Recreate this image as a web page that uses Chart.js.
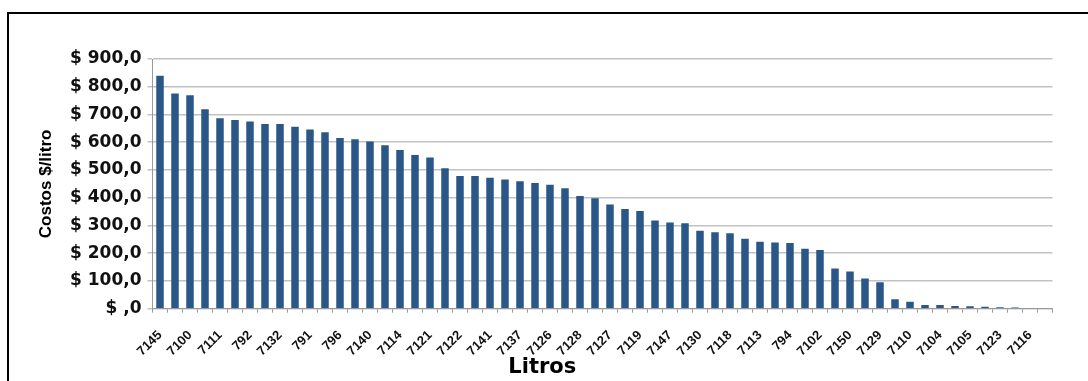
<!DOCTYPE html>
<html>
<head>
<meta charset="utf-8">
<script src="https://cdn.jsdelivr.net/npm/chart.js@4/dist/chart.umd.min.js"></script>
<style>
  html, body { margin: 0; padding: 0; background: #fff; overflow: hidden; }
  #frame { position: absolute; left: 7px; top: 12px; width: 1200px; height: 500px;
           border-left: 2px solid #000; border-top: 2px solid #000; }
  #wrap { position: absolute; left: 0; top: 0; width: 1088px; height: 381px; }
</style>
</head>
<body>
<div id="frame"></div>
<div id="wrap"><canvas id="c"></canvas></div>
<script>
// Vehicle codes, sorted by cost; every second code is labelled on the axis
const categories = [
  '7145', '', '7100', '', '7111', '', '792', '', '7132', '',
  '791', '', '796', '', '7140', '', '7114', '', '7121', '',
  '7122', '', '7141', '', '7137', '', '7126', '', '7128', '',
  '7127', '', '7119', '', '7147', '', '7130', '', '7118', '',
  '7113', '', '794', '', '7102', '', '7150', '', '7129', '',
  '7110', '', '7104', '', '7105', '', '7123', '', '7116', ''
];

// Cost per litre ($)
const costs = [
  840, 776, 769, 719, 686, 680, 675, 666, 666, 656,
  646, 636, 615, 611, 603, 589, 572, 554, 545, 506,
  478, 478, 472, 466, 459, 453, 447, 434, 406, 398,
  376, 359, 352, 318, 311, 308, 281, 276, 272, 252,
  241, 239, 237, 216, 212, 145, 134, 109, 95, 34,
  25, 13, 13, 10, 9, 7, 5, 4, 0, 0
];

const yTickValues = [0, 100, 200, 300, 400, 500, 600, 700, 800, 900];
const yTickLabels = ['$ ,0', '$ 100,0', '$ 200,0', '$ 300,0', '$ 400,0',
                     '$ 500,0', '$ 600,0', '$ 700,0', '$ 800,0', '$ 900,0'];

const axisGrey = '#9a9a9a';

new Chart(document.getElementById('c'), {
  type: 'bar',
  data: {
    labels: categories,
    datasets: [{
      data: costs,
      backgroundColor: '#2a5788',
      barPercentage: 0.5,
      categoryPercentage: 1.0
    }]
  },
  options: {
    responsive: true,
    maintainAspectRatio: false,
    animation: false,
    layout: { padding: { left: 32, right: 35.5, top: 59, bottom: 0 } },
    plugins: {
      legend: { display: false },
      tooltip: { enabled: false },
      title: {
        display: true,
        text: 'Litros',
        position: 'bottom',
        color: '#000',
        font: { family: 'DejaVu Sans', weight: 'bold', size: 21 },
        padding: { top: 0, bottom: 1 }
      }
    },
    scales: {
      x: {
        grid: { offset: true, drawOnChartArea: false, tickLength: 4, color: axisGrey },
        border: { color: axisGrey },
        ticks: {
          autoSkip: false,
          maxRotation: 45,
          minRotation: 45,
          padding: 15,
          color: '#111',
          font: { family: 'Liberation Sans', weight: 'bold', size: 13 }
        },
        afterFit: s => { s.height = 46.1; }
      },
      y: {
        min: 0,
        max: 900,
        ticks: {
          stepSize: 100,
          padding: 6,
          color: '#111',
          font: { family: 'DejaVu Sans', weight: 'bold', size: 17 },
          callback: v => yTickLabels[yTickValues.indexOf(v)]
        },
        grid: { color: '#c2c2c2', lineWidth: 1.5, tickLength: 5 },
        border: { display: true, color: axisGrey },
        title: {
          display: true,
          text: 'Costos $/litro',
          color: '#000',
          font: { family: 'Liberation Sans', weight: 'bold', size: 17 },
          padding: { top: 4, bottom: 4 }
        },
        afterFit: s => { s.width = 120.5; }
      }
    }
  }
});
</script>
</body>
</html>
